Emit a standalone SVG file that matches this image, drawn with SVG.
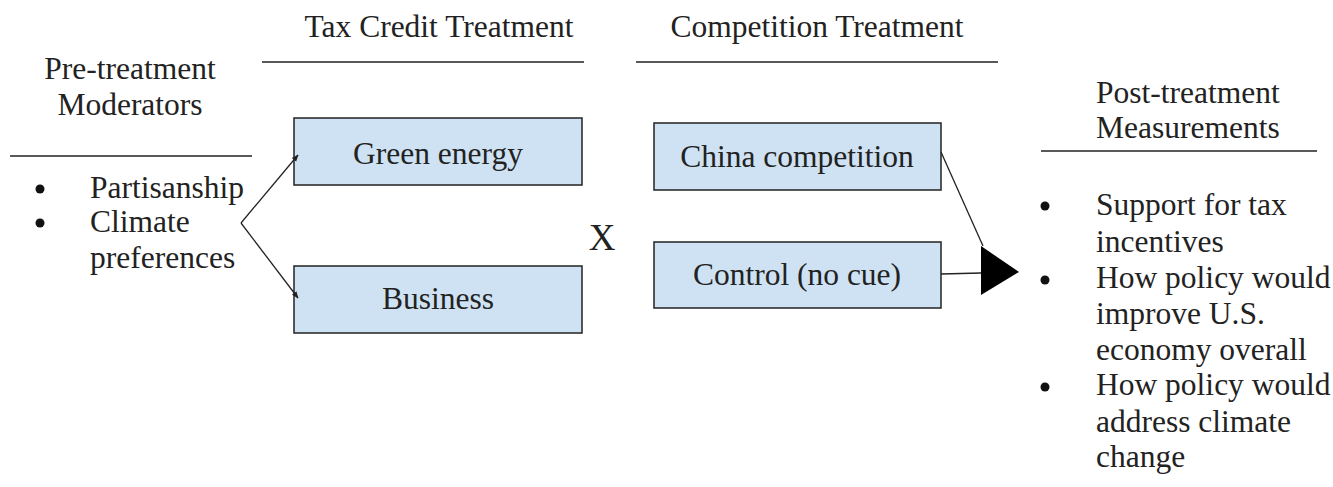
<svg xmlns="http://www.w3.org/2000/svg" width="1333" height="487" viewBox="0 0 1333 487">
<style>
text{font-family:"Liberation Serif","Times New Roman","DejaVu Serif",serif;font-size:31.5px;fill:#222}
.c{text-anchor:middle}
.box{fill:#cfe2f3;stroke:#222;stroke-width:1.5}
.rule{stroke:#222;stroke-width:1.3}
.conn{stroke:#222;stroke-width:1.3;fill:none}
</style>
<defs>
<marker id="ah" viewBox="0 0 10 10" refX="9" refY="5" markerWidth="7" markerHeight="7" orient="auto" markerUnits="userSpaceOnUse"><path d="M0,1 L10,5 L0,9 z" fill="#222"/></marker>
</defs>
<rect width="1333" height="487" fill="#fff"/>
<g id="headings">
<text x="439" y="37" class="c">Tax Credit Treatment</text>
<line x1="262" y1="62" x2="584" y2="62" class="rule"/>
<text x="817" y="37" class="c">Competition Treatment</text>
<line x1="636" y1="62" x2="998" y2="62" class="rule"/>
</g>
<g id="pre">
<text x="130" y="79" class="c">Pre-treatment</text>
<text x="130" y="115" class="c">Moderators</text>
<line x1="10" y1="156" x2="252" y2="156" class="rule"/>
<circle cx="40" cy="189" r="4.5" fill="#111"/>
<text x="90" y="198">Partisanship</text>
<circle cx="40" cy="223" r="4.5" fill="#111"/>
<text x="90" y="232">Climate</text>
<text x="90" y="268">preferences</text>
</g>
<g id="green">
<rect x="294" y="118" width="288" height="67" class="box"/>
<text x="438" y="164" class="c">Green energy</text>
</g>
<g id="business">
<rect x="294" y="266" width="288" height="67" class="box"/>
<text x="438" y="309" class="c">Business</text>
</g>
<g id="x"><text x="602" y="250" class="c" style="font-size:37px">X</text></g>
<g id="china">
<rect x="654" y="123" width="287" height="67" class="box"/>
<text x="797" y="167" class="c">China competition</text>
</g>
<g id="control">
<rect x="654" y="242" width="287" height="66" class="box"/>
<text x="797" y="285" class="c">Control (no cue)</text>
</g>
<g id="post">
<text x="1096" y="103">Post-treatment</text>
<text x="1096" y="138">Measurements</text>
<line x1="1041" y1="151" x2="1317" y2="151" class="rule"/>
<circle cx="1045" cy="206" r="4.5" fill="#111"/>
<text x="1096" y="215">Support for tax</text>
<text x="1096" y="252">incentives</text>
<circle cx="1045" cy="280" r="4.5" fill="#111"/>
<text x="1096" y="288">How policy would</text>
<text x="1096" y="324">improve U.S.</text>
<text x="1096" y="360">economy overall</text>
<circle cx="1045" cy="387" r="4.5" fill="#111"/>
<text x="1096" y="395">How policy would</text>
<text x="1096" y="432">address climate</text>
<text x="1096" y="467">change</text>
</g>
<g id="connectors">
<line x1="241" y1="223" x2="298" y2="155" class="conn" marker-end="url(#ah)"/>
<line x1="241" y1="223" x2="298" y2="298" class="conn" marker-end="url(#ah)"/>
<line x1="941" y1="152" x2="983" y2="246" class="conn"/>
<line x1="941" y1="274" x2="981" y2="273" class="conn"/>
<polygon points="981,246 1019,272 981,295" fill="#000"/>
</g>
</svg>
